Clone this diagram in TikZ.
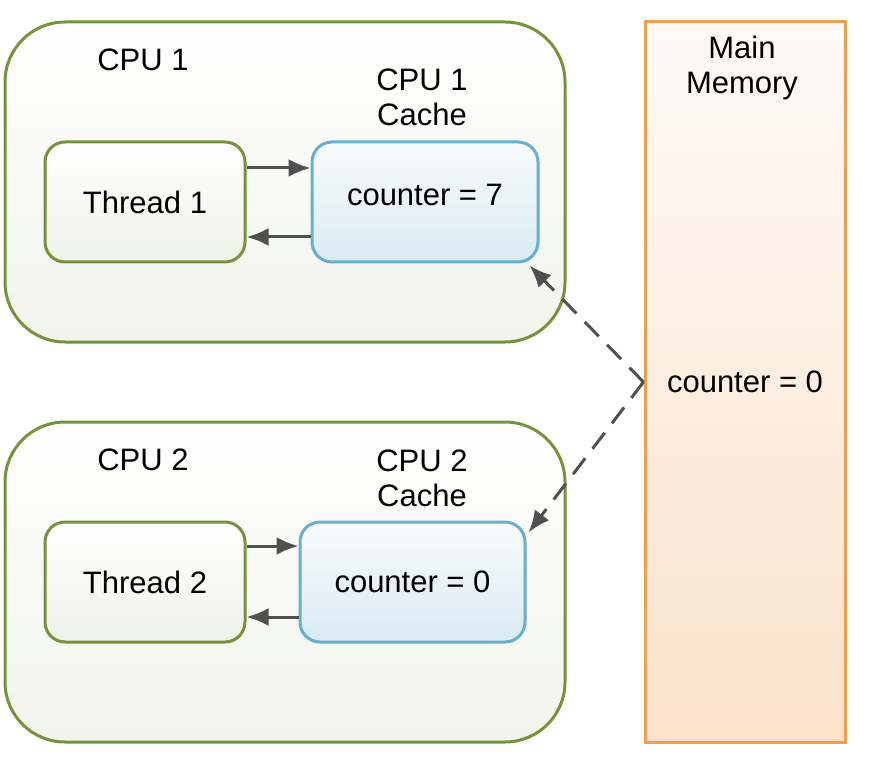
\documentclass[tikz,border=0pt]{standalone}
\usepackage{fontspec}
\setmainfont{Liberation Sans}
\usetikzlibrary{arrows.meta}
\definecolor{cpuline}{RGB}{118,146,60}
\definecolor{cachelin}{RGB}{104,174,206}
\definecolor{memline}{RGB}{240,158,80}
\definecolor{arrowgray}{RGB}{80,80,80}
\begin{document}
\begin{tikzpicture}[>={Latex[length=11pt,width=9pt]},x=0.5pt,y=-0.5pt,
    cpubox/.style={draw=cpuline,line width=1.5pt,rounded corners=30pt,top color=white,bottom color=cpuline!10,minimum width=280pt,minimum height=160pt},
    threadbox/.style={draw=cpuline,line width=1.5pt,rounded corners=10pt,top color=white,bottom color=cpuline!12,minimum width=100pt,minimum height=60pt},
    cachebox/.style={draw=cachelin,line width=1.5pt,rounded corners=10pt,top color=cachelin!5,bottom color=cachelin!25,minimum width=113pt,minimum height=60pt},
    membox/.style={draw=memline,line width=1.5pt,top color=memline!5,bottom color=memline!30,minimum width=100pt,minimum height=360pt},
    link/.style={->,draw=arrowgray,line width=1.5pt},
    sync/.style={->,draw=arrowgray,line width=1.5pt,dash pattern=on 10pt off 6pt}]
    \useasboundingbox (0,0) rectangle (870,758);
    \fontsize{15.5}{17.5}\selectfont
    \path (285,182) node [cpubox](cpu1){};
    \path (285,582) node [cpubox](cpu2){};
    \path (745,382) node [membox](mem){counter = 0};
    \path (143,60) node (cpu1lbl){CPU 1};
    \path (143,460) node (cpu2lbl){CPU 2};
    \path (422,97) node [align=center](cache1lbl){CPU 1\\Cache};
    \path (422,478) node [align=center](cache2lbl){CPU 2\\Cache};
    \path (742,68) node [align=center](memlbl){Main\\Memory};
    \path (145,202) node [threadbox](thread1){Thread 1};
    \path (145,582) node [threadbox](thread2){Thread 2};
    \path (425,202) node [cachebox,text depth=7pt](cache1){counter = 7};
    \path (412.5,582) node [cachebox,minimum width=112.5pt](cache2){counter = 0};
    \draw[link] ([yshift=17pt]thread1.east) -- ([yshift=17pt]cache1.west);
    \draw[link] ([yshift=-17.5pt]cache1.west) -- ([yshift=-17.5pt]thread1.east);
    \draw[link] ([yshift=18pt]thread2.east) -- ([yshift=18pt]cache2.west);
    \draw[link] ([yshift=-17.5pt]cache2.west) -- ([yshift=-17.5pt]thread2.east);
    \draw[sync] (mem.west) -- ([xshift=-5pt,yshift=-1pt]cache1.south east);
    \draw[sync] (mem.west) -- ([xshift=1pt,yshift=-6pt]cache2.north east);
  \end{tikzpicture}
\end{document}
